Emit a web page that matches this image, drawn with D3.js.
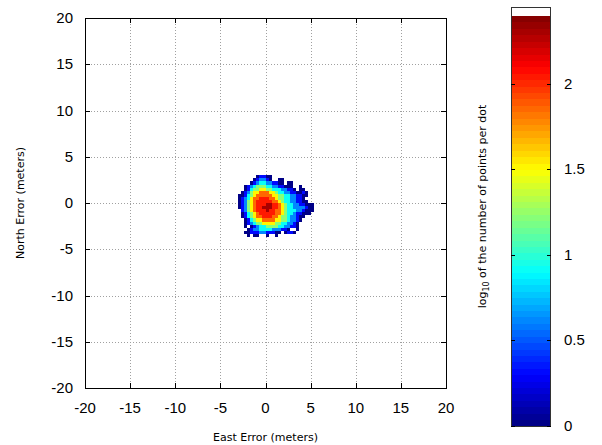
<!DOCTYPE html>
<html>
<head>
<meta charset="utf-8">
<script src="https://cdn.jsdelivr.net/npm/d3@7"></script>
<style>
  html, body { margin: 0; padding: 0; background: #fff; }
  svg { display: block; }
  .tick-label { font-family: "Liberation Sans", Arial, sans-serif; font-size: 15px; fill: #000; }
  .axis-title { font-family: "DejaVu Sans", sans-serif; font-size: 11px; fill: #000; }
</style>
</head>
<body>
<svg id="chart" width="602" height="445"></svg>
<script>
// Axis ticks
const xTicks = [-20, -15, -10, -5, 0, 5, 10, 15, 20];
const yTicks = [-20, -15, -10, -5, 0, 5, 10, 15, 20];
const cbTicks = [0, 0.5, 1, 1.5, 2];

// Density grid: bin size in metres, origin of the top-left bin
const binSize = 1 / 3;
const gridX0 = -3;   // east edge of column 0
const gridY0 = 3;    // north edge of row 0

// Level code per bin ('.' = no points) and the log10 value for each code
const levelValues = [null, 0, 0.3, 0.6, 0.9, 1.2, 1.5, 1.85, 2.05, 2.3];
const densityRows = [
  "......12211...............",
  ".....123321..11...........",
  "....12344332211.11........",
  "..1234555443322111..1.....",
  "..12455665544433221.11....",
  ".1235667776654433221121...",
  "11245677777665544332211...",
  "1234677888776554433221....",
  "12356788888776544332211...",
  "1235678889988765443322111.",
  "1235678899988765443333211.",
  ".235678889887765444332111.",
  ".12456788888776544322111..",
  ".124567788877655433211....",
  "..1245667777665543321.....",
  "..123455666655443321......",
  "..1.1234455554433221......",
  "...12334444333221..1......",
  "..112223322211.1221.......",
  "...1.11..1..1............."
];

const cbMin = 0, cbMax = 2.45, paletteMax = 2.4, paletteSteps = 64;

const svg = d3.select("#chart");
const plot = { left: 85, right: 446, top: 18, bottom: 388 };

const x = d3.scaleLinear().domain([-20, 20]).range([plot.left, plot.right]);
const y = d3.scaleLinear().domain([-20, 20]).range([plot.bottom, plot.top]);

// Jet palette, quantised into discrete steps
function jet(t) {
  const c = v => Math.max(0, Math.min(1, v));
  const r = c(1.5 - Math.abs(4 * t - 3));
  const g = c(1.5 - Math.abs(4 * t - 2));
  const b = c(1.5 - Math.abs(4 * t - 1));
  return d3.rgb(r * 255, g * 255, b * 255).formatHex();
}
function colorFor(v) {
  let idx = Math.floor(v / paletteMax * paletteSteps);
  idx = Math.max(0, Math.min(paletteSteps - 1, idx));
  return jet((idx + 0.5) / paletteSteps);
}

// Grid lines
const grid = svg.append("g");
xTicks.filter(d => d > -20 && d < 20).forEach(d => {
  grid.append("line")
    .attr("x1", Math.round(x(d)) + 0.5).attr("x2", Math.round(x(d)) + 0.5)
    .attr("y1", plot.top).attr("y2", plot.bottom)
    .attr("stroke", "#a0a0a0").attr("stroke-width", 1)
    .attr("stroke-dasharray", "1,2");
});
yTicks.filter(d => d > -20 && d < 20).forEach(d => {
  grid.append("line")
    .attr("y1", Math.round(y(d)) + 0.5).attr("y2", Math.round(y(d)) + 0.5)
    .attr("x1", plot.left).attr("x2", plot.right)
    .attr("stroke", "#a0a0a0").attr("stroke-width", 1)
    .attr("stroke-dasharray", "1,2");
});

// Density bins
const cells = [];
densityRows.forEach((row, r) => {
  for (let k = 0; k < row.length; k++) {
    const ch = row[k];
    if (ch === ".") continue;
    cells.push({
      e0: gridX0 + k * binSize,
      n1: gridY0 - r * binSize,
      v: levelValues[+ch]
    });
  }
});
svg.append("g").selectAll("rect").data(cells).join("rect")
  .attr("x", d => x(d.e0))
  .attr("y", d => y(d.n1))
  .attr("width", d => x(d.e0 + binSize) - x(d.e0))
  .attr("height", d => y(d.n1 - binSize) - y(d.n1))
  .attr("fill", d => colorFor(d.v))
  .attr("shape-rendering", "crispEdges");

// Frame
svg.append("rect")
  .attr("x", plot.left + 0.5).attr("y", plot.top + 0.5)
  .attr("width", plot.right - plot.left).attr("height", plot.bottom - plot.top)
  .attr("fill", "none").attr("stroke", "#000").attr("stroke-width", 1);

// Inward ticks on all four sides
const tl = 5;
const ticks = svg.append("g").attr("stroke", "#000").attr("stroke-width", 1);
xTicks.forEach(d => {
  const px = Math.round(x(d)) + 0.5;
  ticks.append("line").attr("x1", px).attr("x2", px).attr("y1", plot.bottom).attr("y2", plot.bottom - tl);
  ticks.append("line").attr("x1", px).attr("x2", px).attr("y1", plot.top).attr("y2", plot.top + tl);
});
yTicks.forEach(d => {
  const py = Math.round(y(d)) + 0.5;
  ticks.append("line").attr("y1", py).attr("y2", py).attr("x1", plot.left).attr("x2", plot.left + tl);
  ticks.append("line").attr("y1", py).attr("y2", py).attr("x1", plot.right).attr("x2", plot.right - tl);
});

// Tick labels
svg.append("g").selectAll("text").data(xTicks).join("text")
  .attr("class", "tick-label")
  .attr("x", d => x(d)).attr("y", 413)
  .attr("text-anchor", "middle")
  .text(d => d);
svg.append("g").selectAll("text").data(yTicks).join("text")
  .attr("class", "tick-label")
  .attr("x", 73).attr("y", d => y(d) + 5)
  .attr("text-anchor", "end")
  .text(d => d);

// Axis titles
svg.append("text").attr("class", "axis-title")
  .attr("x", (plot.left + plot.right) / 2).attr("y", 441)
  .attr("text-anchor", "middle").text("East Error (meters)");
svg.append("text").attr("class", "axis-title")
  .attr("transform", `translate(24,${(plot.top + plot.bottom) / 2}) rotate(-90)`)
  .attr("text-anchor", "middle").text("North Error (meters)");

// Colour bar
const cb = { left: 511, right: 551, top: 7, bottom: 426 };
const cy = d3.scaleLinear().domain([cbMin, cbMax]).range([cb.bottom, cb.top]);
const cbG = svg.append("g");
cbG.append("rect").attr("x", cb.left).attr("y", cb.top)
  .attr("width", cb.right - cb.left).attr("height", cb.bottom - cb.top)
  .attr("fill", "#fff");
const steps = d3.range(paletteSteps);
cbG.selectAll("rect.step").data(steps).join("rect")
  .attr("class", "step")
  .attr("x", cb.left)
  .attr("width", cb.right - cb.left)
  .attr("y", i => cy((i + 1) / paletteSteps * paletteMax))
  .attr("height", i => cy(i / paletteSteps * paletteMax) - cy((i + 1) / paletteSteps * paletteMax) + 0.5)
  .attr("fill", i => jet((i + 0.5) / paletteSteps))
  .attr("shape-rendering", "crispEdges");
cbG.append("rect").attr("x", cb.left + 0.5).attr("y", cb.top + 0.5)
  .attr("width", cb.right - cb.left - 1).attr("height", cb.bottom - cb.top)
  .attr("fill", "none").attr("stroke", "#333").attr("stroke-width", 1);
cbTicks.forEach(d => {
  const py = Math.round(cy(d)) + 0.5;
  cbG.append("line").attr("x1", cb.left).attr("x2", cb.left + 4).attr("y1", py).attr("y2", py).attr("stroke", "#000");
  cbG.append("line").attr("x1", cb.right - 4).attr("x2", cb.right).attr("y1", py).attr("y2", py).attr("stroke", "#000");
});
svg.append("g").selectAll("text").data(cbTicks).join("text")
  .attr("class", "tick-label")
  .attr("x", 564).attr("y", d => cy(d) + 5)
  .attr("text-anchor", "start")
  .text(d => d);

// Colour bar title with subscript
const cbt = svg.append("text").attr("class", "axis-title")
  .attr("transform", `translate(486,${(cb.top + cb.bottom) / 2 - 10}) rotate(-90)`)
  .attr("text-anchor", "middle");
cbt.append("tspan").text("log");
cbt.append("tspan").attr("dy", 3).attr("font-size", "8px").text("10");
cbt.append("tspan").attr("dy", -3).text(" of the number of points per dot");
</script>
</body>
</html>
